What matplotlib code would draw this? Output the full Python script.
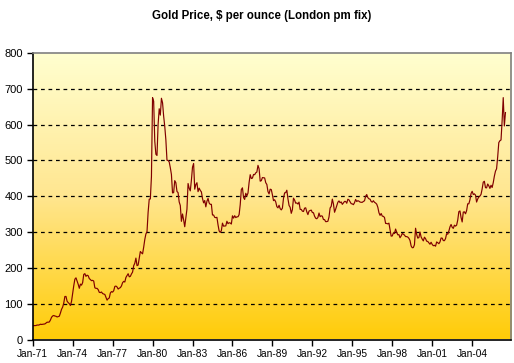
import numpy as np
import matplotlib
matplotlib.use('Agg')
import matplotlib.pyplot as plt
from matplotlib.colors import LinearSegmentedColormap

# Monthly average gold price, London pm fix, Jan 1971 - Jul 2006 (USD / oz)
p1971 = [37.9, 38.7, 38.9, 39.0, 40.5, 40.1, 41.0, 42.7, 42.0, 42.5, 42.9, 43.5]
p1972 = [45.8, 48.3, 48.3, 49.0, 54.6, 62.1, 65.7, 67.0, 65.5, 64.9, 62.9, 63.9]
p1973 = [65.1, 74.2, 84.4, 90.5, 102.0, 120.1, 120.2, 106.8, 103.0, 100.1, 94.8, 106.7]
p1974 = [129.2, 150.2, 168.4, 172.2, 163.3, 154.1, 143.0, 154.6, 151.8, 158.8, 181.7, 183.9]
p1975 = [176.3, 179.6, 178.0, 170.0, 167.4, 164.2, 165.2, 163.1, 144.4, 142.8, 142.8, 139.3]
p1976 = [131.6, 131.0, 132.6, 128.2, 126.9, 125.8, 117.9, 109.9, 114.0, 116.0, 130.2, 133.7]
p1977 = [132.3, 136.2, 148.2, 149.2, 146.7, 140.9, 143.3, 144.9, 149.6, 158.7, 162.3, 160.5]
p1978 = [173.2, 178.2, 183.7, 175.1, 176.3, 183.1, 188.2, 206.1, 212.9, 227.3, 206.2, 207.8]
p1979 = [227.3, 245.7, 242.1, 239.2, 257.6, 279.1, 294.7, 300.8, 355.2, 391.7, 392.5, 455.1]
p1980 = [675.3, 665.3, 553.6, 517.4, 513.8, 600.7, 644.3, 626.5, 673.6, 661.2, 623.5, 594.9]
p1981 = [557.4, 500.5, 499.8, 495.8, 479.7, 460.8, 409.3, 410.1, 443.6, 437.8, 413.4, 410.1]
p1982 = [384.1, 374.2, 330.0, 350.5, 333.9, 314.9, 338.6, 364.2, 435.6, 422.4, 415.0, 444.6]
p1983 = [481.3, 491.5, 419.8, 432.7, 437.8, 412.8, 422.7, 416.3, 412.2, 393.8, 381.6, 388.0]
p1984 = [370.4, 386.0, 394.0, 381.2, 377.3, 377.5, 347.7, 347.7, 341.1, 340.2, 341.2, 320.2]
p1985 = [303.1, 299.0, 304.0, 324.9, 316.5, 316.9, 317.3, 330.2, 323.5, 326.0, 325.3, 322.4]
p1986 = [345.4, 338.9, 345.7, 340.4, 342.5, 342.7, 348.8, 376.5, 418.8, 423.5, 396.4, 391.1]
p1987 = [408.3, 401.1, 408.9, 438.5, 460.2, 449.6, 450.6, 460.8, 460.2, 465.4, 467.6, 486.3]
p1988 = [476.7, 442.1, 443.6, 452.2, 451.7, 451.2, 437.8, 432.9, 413.0, 406.5, 419.7, 418.6]
p1989 = [404.0, 387.8, 390.2, 384.2, 371.0, 367.6, 374.8, 365.3, 361.9, 366.7, 394.3, 409.5]
p1990 = [410.1, 416.8, 393.1, 374.3, 369.0, 352.3, 362.5, 394.7, 389.3, 380.6, 381.4, 378.2]
p1991 = [383.6, 363.3, 363.3, 358.4, 357.4, 366.7, 367.7, 356.4, 348.8, 358.6, 360.2, 361.3]
p1992 = [354.5, 354.0, 344.3, 338.6, 337.2, 340.8, 353.1, 343.0, 345.4, 344.4, 335.0, 334.7]
p1993 = [329.0, 329.3, 330.1, 342.2, 367.2, 371.9, 392.0, 378.4, 355.3, 364.0, 373.8, 383.3]
p1994 = [386.9, 381.9, 384.1, 377.3, 381.4, 385.6, 385.5, 380.4, 391.6, 389.8, 384.4, 379.3]
p1995 = [378.6, 376.5, 382.2, 391.0, 385.3, 387.6, 386.2, 383.7, 383.1, 383.1, 385.5, 387.4]
p1996 = [400.0, 404.8, 396.2, 392.8, 391.9, 385.3, 383.5, 387.5, 383.1, 381.1, 377.9, 369.2]
p1997 = [354.1, 346.6, 351.8, 344.5, 343.8, 340.8, 324.1, 324.0, 322.8, 324.9, 306.0, 288.7]
p1998 = [289.1, 297.5, 295.9, 308.4, 299.4, 292.3, 292.9, 284.1, 289.0, 296.0, 294.1, 291.6]
p1999 = [287.3, 287.3, 286.0, 282.6, 276.4, 261.3, 256.2, 256.7, 264.7, 310.7, 293.2, 283.1]
p2000 = [284.6, 300.1, 286.4, 280.2, 275.3, 285.7, 281.6, 274.5, 273.7, 270.0, 266.0, 271.5]
p2001 = [265.5, 261.9, 263.0, 260.5, 272.4, 270.2, 267.5, 272.4, 283.4, 283.1, 276.2, 275.9]
p2002 = [281.7, 295.5, 294.0, 302.7, 314.5, 321.2, 313.3, 310.3, 319.2, 316.6, 319.2, 333.4]
p2003 = [356.9, 359.0, 340.6, 328.2, 355.7, 356.5, 351.0, 359.8, 378.9, 378.9, 389.9, 407.6]
p2004 = [413.8, 404.9, 406.7, 403.3, 383.8, 392.4, 398.1, 400.5, 405.3, 420.5, 439.4, 441.8]
p2005 = [424.0, 423.4, 434.2, 429.2, 421.9, 430.7, 424.5, 437.9, 456.0, 469.9, 476.7, 509.8]
p2006 = [549.9, 555.0, 557.1, 610.6, 675.4, 596.2, 633.7]

prices = (p1971 + p1972 + p1973 + p1974 + p1975 + p1976 + p1977 + p1978 + p1979
          + p1980 + p1981 + p1982 + p1983 + p1984 + p1985 + p1986 + p1987 + p1988
          + p1989 + p1990 + p1991 + p1992 + p1993 + p1994 + p1995 + p1996 + p1997
          + p1998 + p1999 + p2000 + p2001 + p2002 + p2003 + p2004 + p2005 + p2006)

tick_labels = ['Jan-71', 'Jan-74', 'Jan-77', 'Jan-80', 'Jan-83', 'Jan-86',
               'Jan-89', 'Jan-92', 'Jan-95', 'Jan-98', 'Jan-01', 'Jan-04']

plt.rcParams['font.family'] = ['Liberation Sans', 'DejaVu Sans']

W, H = 514, 363
fig = plt.figure(figsize=(W / 100, H / 100), dpi=100)
fig.patch.set_facecolor('white')

left, right, top, bottom = 32.7, 511, 53, 339.5
ax = fig.add_axes([left / W, (H - bottom) / H, (right - left) / W, (bottom - top) / H])

months = np.arange(len(prices))
n_cat = 431

# gradient background, gold at the bottom to pale yellow at the top
grad = LinearSegmentedColormap.from_list(
    'gold', [(0.0, '#FFCC08'), (0.5, '#FFE690'), (1.0, '#FFFFD0')])
ax.imshow(np.linspace(0, 1, 256).reshape(-1, 1), cmap=grad, origin='lower',
          extent=[0, n_cat, 0, 800], aspect='auto', zorder=0)

for y in range(100, 800, 100):
    ax.axhline(y, color='black', lw=0.9, ls=(0, (3, 3)), zorder=1)

ax.plot(months, prices, color='#800000', lw=0.85, zorder=2)

ax.set_xlim(0, n_cat)
ax.set_ylim(0, 800)
ax.set_yticks(range(0, 801, 100))
ax.set_xticks(np.arange(len(tick_labels)) * 36)
ax.set_xticklabels(tick_labels)
ax.tick_params(axis='y', labelsize=8, length=4, width=1, pad=3)
ax.tick_params(axis='x', labelsize=7.3, length=4, width=1, pad=3)

ax.spines['left'].set_color('black')
ax.spines['bottom'].set_color('black')
ax.spines['top'].set_color('#808080')
ax.spines['right'].set_color('#808080')
for s in ax.spines.values():
    s.set_linewidth(1.2)

fig.text(262 / W, 1 - 16 / H, 'Gold Price, $ per ounce (London pm fix)',
         ha='center', va='center', fontsize=8.3, fontweight='bold')

fig.savefig('out.png', dpi=100)
